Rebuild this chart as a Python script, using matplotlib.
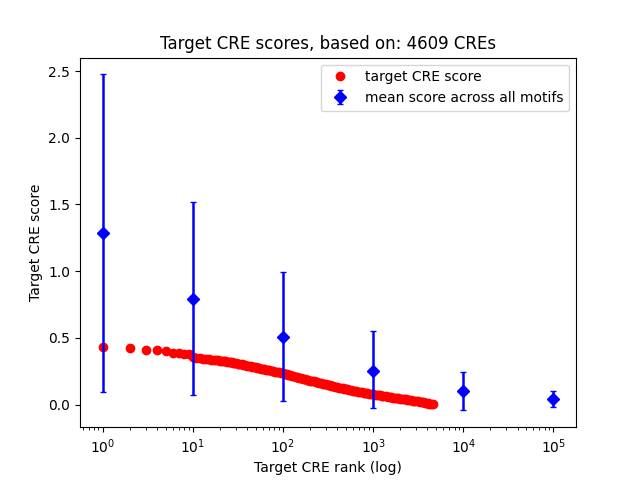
import matplotlib
matplotlib.use('Agg')
import matplotlib.pyplot as plt

# target CRE scores, by rank
cre_ranks = [1, 2, 3, 4, 5, 6, 7, 8, 9,
             10, 11, 12, 13, 14, 15, 16, 17, 18, 19, 20, 21, 22, 23, 24,
             25, 26, 27, 28, 29, 30, 32, 33, 35, 36, 38, 40, 42, 44, 46,
             48, 50, 52, 55, 57, 60, 62, 65, 68, 71, 75, 78, 82, 86, 90,
             95, 100, 105, 110, 115, 120, 125, 130, 138, 145, 152, 160,
             168, 175, 183, 190, 200, 210, 220, 230, 240, 250, 262, 275,
             288, 300, 315, 330, 345, 360, 380,
             400, 420, 440, 460, 480, 500, 520, 545, 570, 595, 620, 650,
             680, 715, 750, 785, 820, 860, 900, 950, 1000, 1050, 1100,
             1150, 1200, 1250, 1300, 1375, 1450, 1525, 1600, 1675, 1750,
             1825, 1900, 2000, 2100, 2200, 2300, 2400, 2500, 2625, 2750,
             2875, 3000, 3150, 3300, 3450, 3600, 3750, 3900, 4050, 4200,
             4400, 4609]
cre_scores = [0.430, 0.421, 0.407, 0.408, 0.399, 0.389, 0.384, 0.382, 0.380,
              0.358, 0.352, 0.348, 0.345, 0.342, 0.338, 0.335, 0.333, 0.332,
              0.331, 0.328, 0.327, 0.325, 0.324, 0.322, 0.320, 0.318, 0.316,
              0.314, 0.312, 0.310, 0.307, 0.305, 0.302, 0.300, 0.296, 0.292,
              0.289, 0.286, 0.283, 0.280, 0.278, 0.275, 0.272, 0.270, 0.267,
              0.265, 0.262, 0.259, 0.256, 0.253, 0.250, 0.247, 0.244, 0.241,
              0.237, 0.234, 0.230, 0.227, 0.223, 0.220, 0.217, 0.214, 0.209,
              0.205, 0.201, 0.197, 0.193, 0.190, 0.187, 0.184, 0.180, 0.177,
              0.173, 0.170, 0.167, 0.164, 0.160, 0.157, 0.154, 0.151, 0.147,
              0.144, 0.140, 0.137, 0.133,
              0.130, 0.127, 0.124, 0.121, 0.118, 0.115, 0.113, 0.110, 0.108,
              0.105, 0.103, 0.100, 0.097, 0.095, 0.092, 0.090, 0.087, 0.085,
              0.082, 0.080, 0.077, 0.074, 0.072, 0.070, 0.068, 0.066, 0.064,
              0.061, 0.059, 0.056, 0.054, 0.052, 0.050, 0.048, 0.046, 0.044,
              0.042, 0.040, 0.038, 0.036, 0.034, 0.032, 0.030, 0.028, 0.026,
              0.024, 0.021, 0.019, 0.016, 0.014, 0.011, 0.009, 0.007, 0.004,
              0.002]

# mean score across all motifs with spread
motif_ranks = [1, 10, 100, 1000, 10000, 100000]
motif_means = [1.285, 0.791, 0.505, 0.255, 0.099, 0.039]
motif_low = [0.094, 0.069, 0.026, -0.029, -0.044, -0.021]
motif_high = [2.475, 1.516, 0.993, 0.551, 0.241, 0.099]

n_cres = 4609

err_low = [m - lo for m, lo in zip(motif_means, motif_low)]
err_high = [hi - m for m, hi in zip(motif_means, motif_high)]

fig, ax = plt.subplots(figsize=(6.4, 4.8), dpi=100)

ax.plot(cre_ranks, cre_scores, 'o', color='red', label='target CRE score')
ax.errorbar(motif_ranks, motif_means, yerr=[err_low, err_high], fmt='D',
            color='blue', ecolor='blue', elinewidth=1.8, capsize=2,
            label='mean score across all motifs')

ax.set_xscale('log')
ax.set_title('Target CRE scores, based on: ' + str(n_cres) + ' CREs')
ax.set_xlabel('Target CRE rank (log)')
ax.set_ylabel('Target CRE score')
ax.legend(loc='upper right')

fig.savefig('out.png', dpi=100)
